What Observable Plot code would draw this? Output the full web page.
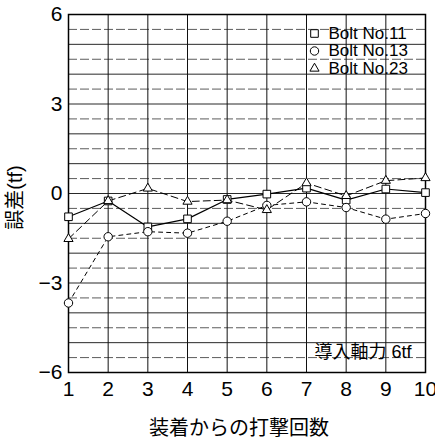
<!DOCTYPE html>
<html><head><meta charset="utf-8">
<script src="https://cdn.jsdelivr.net/npm/d3@7"></script>
<script src="https://cdn.jsdelivr.net/npm/@observablehq/plot@0.6"></script>
<style>
html,body{margin:0;padding:0;background:#fff;}
</style>
</head><body><div id="chart"></div>
<script>
const hits = [1,2,3,4,5,6,7,8,9,10];
const bolt11 = [-0.78,-0.25,-1.12,-0.85,-0.2,-0.02,0.18,-0.22,0.15,0.03];
const bolt13 = [-3.67,-1.45,-1.28,-1.33,-0.93,-0.4,-0.28,-0.47,-0.86,-0.67];
const bolt23 = [-1.52,-0.25,0.17,-0.27,-0.22,-0.55,0.35,-0.08,0.43,0.52];
const yTicks = [-6,-3,0,3,6];
const xTicks = [1,2,3,4,5,6,7,8,9,10];
const seriesNames = ["Bolt No.11","Bolt No.13","Bolt No.23"];

const t11 = hits.map((x,i)=>({x, y: bolt11[i]}));
const t13 = hits.map((x,i)=>({x, y: bolt13[i]}));
const t23 = hits.map((x,i)=>({x, y: bolt23[i]}));
const gridInt = d3.range(-5, 6, 1);
const gridHalf = d3.range(-5.5, 6, 1);
const font = "'Liberation Sans', Arial, 'Noto Sans CJK JP', sans-serif";
const fmt = d => d < 0 ? "\u2212" + Math.abs(d) : String(d);

const legendSymbols = ["square","circle","triangle"];
const legendR = [4.3, 4.2, 3.4];
const legendMarks = seriesNames.flatMap((name, i) => [
  Plot.dot([name], {frameAnchor: "top-right", dx: -111, dy: 19 + 17.5*i, symbol: legendSymbols[i], r: legendR[i], fill: "#fff", stroke: "#000", strokeWidth: 1}),
  Plot.text([name], {frameAnchor: "top-right", textAnchor: "start", lineAnchor: "middle", dx: -97, dy: 19 + 17.5*i, fontSize: 17, fill: "#000"})
]);

const chart = Plot.plot({
  width: 435, height: 438,
  marginLeft: 68, marginRight: 10, marginTop: 14, marginBottom: 66,
  style: {fontFamily: font, background: "#fff", color: "#000"},
  x: {domain: [1,10], axis: null},
  y: {domain: [-6,6], axis: null},
  marks: [
    Plot.ruleY(gridHalf, {stroke: "#333", strokeWidth: 0.8, strokeDasharray: "9,3"}),
    Plot.ruleY(gridInt, {stroke: "#111", strokeWidth: 0.9}),
    Plot.ruleX(xTicks, {stroke: "#111", strokeWidth: 1}),
    Plot.frame({stroke: "#000", strokeWidth: 1.5}),
    Plot.axisY({ticks: yTicks, tickFormat: fmt, tickSize: 0, tickPadding: 6, fontSize: 21, label: null}),
    Plot.axisX({ticks: xTicks, tickFormat: d => String(d), tickSize: 0, tickPadding: 9, fontSize: 21, label: null}),
    Plot.line(t11, {x: "x", y: "y", stroke: "#000", strokeWidth: 1.2}),
    Plot.line(t23, {x: "x", y: "y", stroke: "#000", strokeWidth: 1, strokeDasharray: "7,4"}),
    Plot.line(t13, {x: "x", y: "y", stroke: "#000", strokeWidth: 1, strokeDasharray: "4,4"}),
    Plot.dot(t11, {x: "x", y: "y", symbol: "square", r: 4.3, fill: "#fff", stroke: "#000", strokeWidth: 1}),
    Plot.dot(t13, {x: "x", y: "y", symbol: "circle", r: 4.2, fill: "#fff", stroke: "#000", strokeWidth: 1}),
    Plot.dot(t23, {x: "x", y: "y", symbol: "triangle", r: 3.4, fill: "#fff", stroke: "#000", strokeWidth: 1}),
    ...legendMarks,
    Plot.text(["導入軸力 6tf"], {frameAnchor: "bottom-right", textAnchor: "end", lineAnchor: "middle", dx: -14, dy: -20, fontSize: 18, fill: "#000"}),
    Plot.text(["誤差(tf)"], {frameAnchor: "left", rotate: -90, textAnchor: "middle", lineAnchor: "middle", dx: -53, dy: 4, fontSize: 20, fill: "#000"}),
    Plot.text(["装着からの打撃回数"], {frameAnchor: "bottom", textAnchor: "middle", lineAnchor: "middle", dx: -8, dy: 56, fontSize: 20, fill: "#000"})
  ]
});
document.getElementById("chart").appendChild(chart);
</script>
</body></html>
